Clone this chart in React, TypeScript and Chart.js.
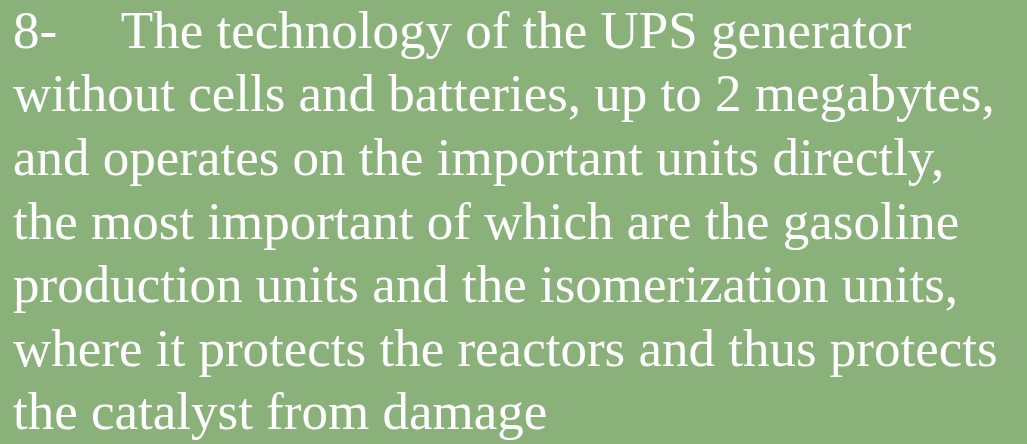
import React, { useEffect, useRef } from "react";
import { Chart, registerables } from "chart.js";

Chart.register(...registerables);

const textLines: string[] = [
  "8-    \u2009The technology of the UPS generator",
  "without cells and batteries, up to 2 megabytes,",
  "and operates on the important units directly,",
  "the most important of which are the gasoline",
  "production units and the isomerization units,",
  "where it protects the reactors and thus protects",
  "the catalyst from damage",
];

const categories: string[] = [];
const values: number[] = [];

const bgColor = "#8AB17A";

const backgroundPlugin = {
  id: "bgFill",
  beforeDraw(chart: any) {
    const { ctx, width, height } = chart;
    ctx.save();
    ctx.fillStyle = bgColor;
    ctx.fillRect(0, 0, width, height);
    ctx.restore();
  },
};

export default function App() {
  const ref = useRef<HTMLCanvasElement | null>(null);
  useEffect(() => {
    document.body.style.margin = "0";
    document.body.style.background = bgColor;
    if (!ref.current) return;
    const chart = new Chart(ref.current, {
      type: "bar",
      data: {
        labels: categories,
        datasets: [{ data: values, backgroundColor: "#ffffff" }],
      },
      options: {
        animation: false,
        responsive: false,
        maintainAspectRatio: false,
        events: [],
        layout: { padding: { left: 13, top: 0, right: 0, bottom: 0 } },
        scales: { x: { display: false }, y: { display: false } },
        plugins: {
          legend: { display: false },
          tooltip: { enabled: false },
          title: {
            display: true,
            text: textLines,
            align: "start",
            color: "#ffffff",
            font: { family: "'Liberation Serif', serif", size: 53, weight: "normal", lineHeight: 1.2 },
            padding: { top: 2, bottom: 0 },
          },
        },
      },
      plugins: [backgroundPlugin],
    });
    return () => chart.destroy();
  }, []);
  return (
    <div style={{ width: 1027, height: 444 }}>
      <canvas ref={ref} width={1027} height={444} style={{ display: "block" }} />
    </div>
  );
}
